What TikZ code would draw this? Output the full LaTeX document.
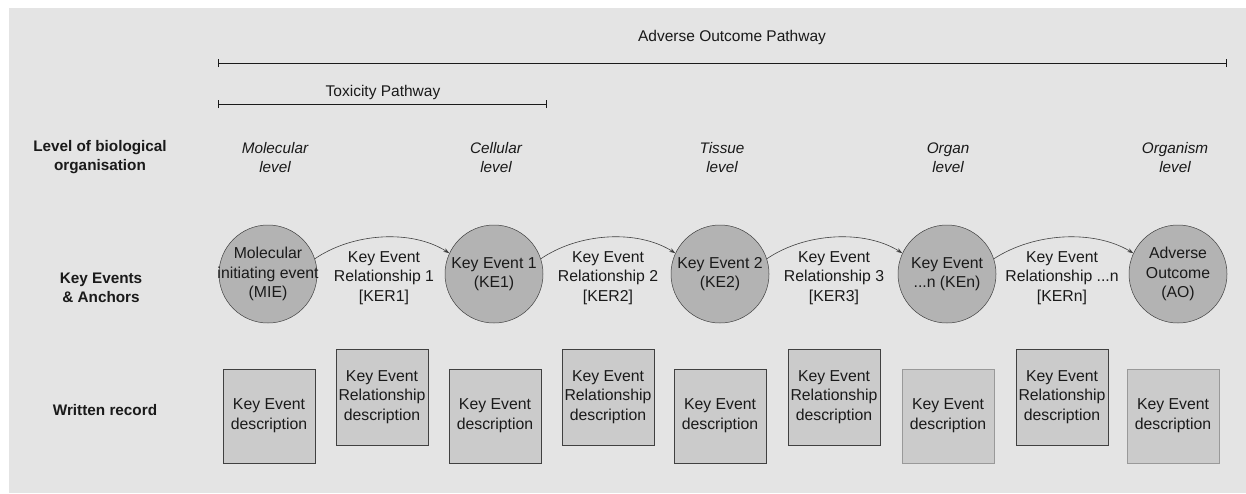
\documentclass[tikz,border=0pt]{standalone}
\usepackage{fontspec}
\setmainfont{Liberation Sans}
\usetikzlibrary{arrows.meta}
\definecolor{bg}{HTML}{E4E4E4}
\definecolor{circfill}{HTML}{B3B3B3}
\definecolor{boxfill}{HTML}{CBCBCB}
\definecolor{ink}{HTML}{1A1A1A}
\definecolor{edge}{HTML}{404040}
\tikzset{
  txt/.style={text=ink, font=\fontsize{15.5}{19}\selectfont, align=center, inner sep=0pt},
  rowlabel/.style={txt, font=\fontsize{15.3}{19}\selectfont\bfseries},
  levellabel/.style={txt, font=\fontsize{15.3}{19}\selectfont\itshape},
  event/.style={circle, draw=edge, line width=0.5pt, fill=circfill, minimum size=98pt, inner sep=-14pt, text=ink, font=\fontsize{15.8}{19.5}\selectfont, align=center},
  kerlabel/.style={txt, font=\fontsize{15.8}{19.5}\selectfont},
  recbox/.style={draw=edge, line width=0.8pt, fill=boxfill, minimum width=92pt, minimum height=94pt, inner sep=0pt, text=ink, font=\fontsize{15.8}{19.8}\selectfont, align=center},
  kerbox/.style={recbox, minimum height=96pt},
  softbox/.style={recbox, draw=gray!80},
  rel/.style={draw=edge, line width=0.6pt, -{Stealth[length=6pt,width=4pt]}},
  spanline/.style={draw=ink, line width=0.8pt}
}
\begin{document}
\begin{tikzpicture}[x=1pt,y=-1pt]
\useasboundingbox (0,0) rectangle (1246,493);
\fill[bg] (9,8) rectangle (1246,493);

% ranges
\coordinate (aopL) at (218,63);
\coordinate (aopR) at (1226,63);
\coordinate (tpL) at (218,104);
\coordinate (tpR) at (546,104);
\draw[spanline] (aopL) -- (aopR);
\draw[spanline] ([yshift=-4pt]aopL) -- ([yshift=4pt]aopL);
\draw[spanline] ([yshift=-4pt]aopR) -- ([yshift=4pt]aopR);
\draw[spanline] (tpL) -- (tpR);
\draw[spanline] ([yshift=-4pt]tpL) -- ([yshift=4pt]tpL);
\draw[spanline] ([yshift=-4pt]tpR) -- ([yshift=4pt]tpR);
\node[txt] (aoplabel) at (732,37) {Adverse Outcome Pathway};
\node[txt] (tplabel) at (383,92) {Toxicity Pathway};

% row labels
\node[rowlabel] (rowlevel) at (100,157) {Level of biological\\organisation};
\node[rowlabel] (rowke) at (101,288) {Key Events\\\& Anchors};
\node[rowlabel] (rowwr) at (105,410) {Written record};

% levels
\node[levellabel] (lv1) at (275,158) {Molecular\\level};
\node[levellabel] (lv2) at (496,158) {Cellular\\level};
\node[levellabel] (lv3) at (722,158) {Tissue\\level};
\node[levellabel] (lv4) at (948,158) {Organ\\level};
\node[levellabel] (lv5) at (1175,158) {Organism\\level};

% events
\node[event] (mie) at (268,274) {Molecular\\initiating event\\(MIE)};
\node[event] (ke1) at (494,274) {Key Event 1\\(KE1)};
\node[event] (ke2) at (720,274) {Key Event 2\\(KE2)};
\node[event] (ken) at (947,274) {Key Event\\...n (KEn)};
\node[event] (ao) at (1178,274) {Adverse\\Outcome\\(AO)};

% KER labels
\node[kerlabel] (ker1) at (384,278) {Key Event\\Relationship 1\\{[KER1]}};
\node[kerlabel] (ker2) at (608,278) {Key Event\\Relationship 2\\{[KER2]}};
\node[kerlabel] (ker3) at (834,278) {Key Event\\Relationship 3\\{[KER3]}};
\node[kerlabel] (kern) at (1062,278) {Key Event\\Relationship ...n\\{[KERn]}};

% relationships
\draw[rel] (mie.18) .. controls +(38,-26) and +(-38,-24) .. (ke1.155);
\draw[rel] (ke1.18) .. controls +(38,-26) and +(-38,-24) .. (ke2.155);
\draw[rel] (ke2.18) .. controls +(38,-26) and +(-38,-24) .. (ken.155);
\draw[rel] (ken.18) .. controls +(40,-26) and +(-40,-24) .. (ao.155);

% written records
\node[recbox] (d1) at (269,416) {Key Event\\description};
\node[kerbox] (r1) at (382,397) {Key Event\\Relationship\\description};
\node[recbox] (d2) at (495,416) {Key Event\\description};
\node[kerbox] (r2) at (608,397) {Key Event\\Relationship\\description};
\node[recbox] (d3) at (720,416) {Key Event\\description};
\node[kerbox] (r3) at (834,397) {Key Event\\Relationship\\description};
\node[softbox] (d4) at (948,416) {Key Event\\description};
\node[kerbox] (r4) at (1062,397) {Key Event\\Relationship\\description};
\node[softbox] (d5) at (1173,416) {Key Event\\description};
\end{tikzpicture}
\end{document}
